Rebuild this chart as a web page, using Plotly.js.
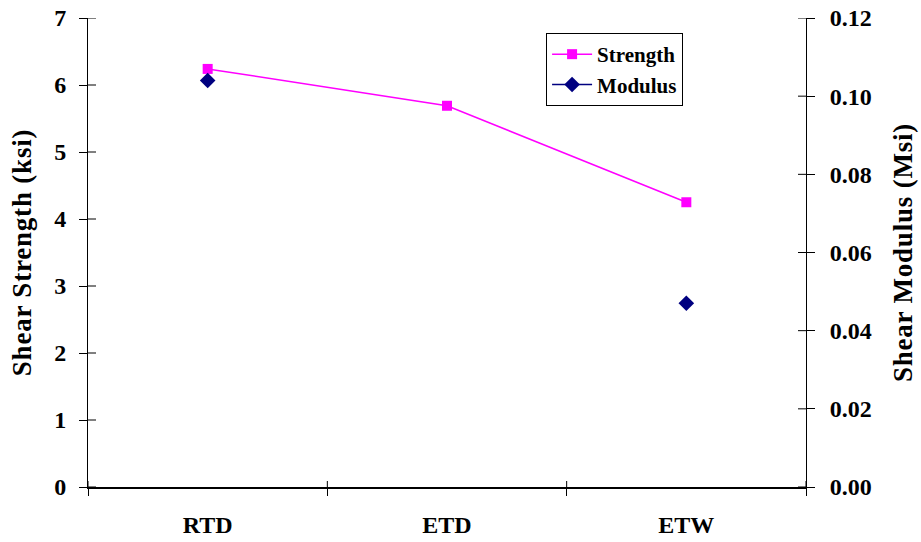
<!DOCTYPE html>
<html>
<head>
<meta charset="utf-8">
<script src="https://cdn.plot.ly/plotly-3.0.1.min.js"></script>
<style>
html,body{margin:0;padding:0;background:#fff;}
#chart{width:921px;height:542px;}
.g-ytitle text, .g-y2title text { letter-spacing: 0.8px; }
</style>
</head>
<body>
<div id="chart"></div>
<script>
const categories = ["RTD", "ETD", "ETW"];
const strength = [6.24, 5.69, 4.25];
const modulus = [0.104, null, 0.047];
const leftTicks = [0, 1, 2, 3, 4, 5, 6, 7];
const rightTicks = [0, 0.02, 0.04, 0.06, 0.08, 0.10, 0.12];
const categoryBoundaries = [-0.5, 0.5, 1.5, 2.5];

const FONT = "Liberation Serif, Times New Roman, serif";
const tickFont = {family: FONT, size: 24, color: "#000", weight: "bold"};
const titleFont = {family: FONT, size: 27, color: "#000", weight: "bold"};

const traces = [
  {
    x: categories, y: strength, name: "<b>Strength</b>", type: "scatter", mode: "lines+markers",
    line: {color: "#FF00FF", width: 1.5},
    marker: {symbol: "square", size: 10, color: "#FF00FF"},
    xaxis: "x", yaxis: "y"
  },
  {
    x: categories, y: modulus, name: "<b>Modulus</b>", type: "scatter", mode: "lines+markers",
    connectgaps: false,
    line: {color: "#000080", width: 1.5},
    marker: {symbol: "diamond", size: 12, color: "#000080"},
    xaxis: "x", yaxis: "y2"
  }
];

// inner halves of the crossing tick marks
const tickLine = {color: "#000", width: 1};
const shapes = [];
leftTicks.forEach(v => shapes.push({type: "line", xref: "paper", yref: "y", xsizemode: "pixel", xanchor: 0, x0: 0, x1: 8, y0: v, y1: v, line: tickLine, layer: "above"}));
rightTicks.forEach(v => shapes.push({type: "line", xref: "paper", yref: "y2", xsizemode: "pixel", xanchor: 1, x0: -8, x1: 0, y0: v, y1: v, line: tickLine, layer: "above"}));
categoryBoundaries.forEach(v => shapes.push({type: "line", xref: "x", yref: "paper", ysizemode: "pixel", yanchor: 0, y0: 0, y1: 6, x0: v, x1: v, line: tickLine, layer: "above"}));

const layout = {
  width: 921, height: 542,
  margin: {l: 88, r: 115, t: 18, b: 55},
  paper_bgcolor: "#fff", plot_bgcolor: "#fff",
  showlegend: true,
  shapes: shapes,
  legend: {
    x: 0.638, y: 0.968, xanchor: "left", yanchor: "top",
    bordercolor: "#000", borderwidth: 1, bgcolor: "#fff",
    font: {family: FONT, size: 21, color: "#000"},
    itemwidth: 40, tracegroupgap: 0
  },
  xaxis: {
    type: "category", range: [-0.5, 2.5], tickson: "boundaries",
    showline: true, linecolor: "#000", linewidth: 2,
    ticks: "outside", ticklen: 7, tickcolor: "#000", tickwidth: 1,
    showgrid: false, zeroline: false,
    tickfont: tickFont, ticklabelstandoff: 15
  },
  yaxis: {
    range: [0, 7], tickvals: leftTicks, ticktext: leftTicks.map(String),
    showline: true, linecolor: "#000", linewidth: 1,
    ticks: "outside", ticklen: 8, tickcolor: "#000", tickwidth: 1,
    showgrid: false, zeroline: false,
    tickfont: tickFont, ticklabelstandoff: 8,
    title: {text: "<b>Shear Strength (ksi)</b>", font: titleFont, standoff: 14}
  },
  yaxis2: {
    range: [0, 0.12], tickvals: rightTicks, ticktext: rightTicks.map(v => v.toFixed(2)),
    overlaying: "y", side: "right", anchor: "x",
    showline: true, linecolor: "#000", linewidth: 1,
    ticks: "outside", ticklen: 8, tickcolor: "#000", tickwidth: 1,
    showgrid: false, zeroline: false,
    tickfont: tickFont, ticklabelstandoff: 10,
    title: {text: "<b>Shear Modulus (Msi)</b>", font: titleFont, standoff: 22}
  }
};

Plotly.newPlot("chart", traces, layout, {displayModeBar: false, staticPlot: true});
</script>
</body>
</html>
